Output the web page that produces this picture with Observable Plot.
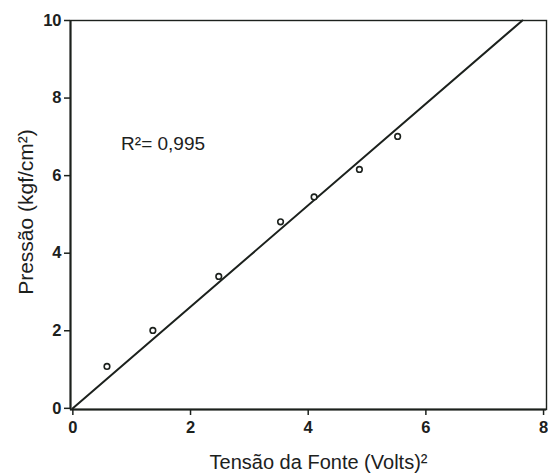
<!DOCTYPE html>
<html>
<head>
<meta charset="utf-8">
<script src="https://cdn.jsdelivr.net/npm/d3@7"></script>
<script src="https://cdn.jsdelivr.net/npm/@observablehq/plot@0.6"></script>
<style>
  html, body { margin: 0; padding: 0; background: #fff; overflow: hidden; }
</style>
</head>
<body>
<div id="chart"></div>
<script>
// Measured points: Tensão da Fonte (Volts)^2 vs Pressão (kgf/cm^2)
const tensao = [0.58, 1.36, 2.48, 3.53, 4.10, 4.87, 5.52];
const pressao = [1.08, 2.01, 3.40, 4.81, 5.45, 6.16, 7.01];
// Fitted line endpoints
const fitX = [0, 7.64];
const fitY = [0, 10];
const xTicks = [0, 2, 4, 6, 8];
const yTicks = [0, 2, 4, 6, 8, 10];
const r2Label = "R²= 0,995";
const xLabel = "Tensão da Fonte (Volts)²";
const yLabel = "Pressão (kgf/cm²)";

const points = tensao.map((x, i) => ({x, y: pressao[i]}));
const fit = fitX.map((x, i) => ({x, y: fitY[i]}));
const ink = "#1c211d";

const chart = Plot.plot({
  width: 548,
  height: 473,
  marginLeft: 70,
  marginRight: 2,
  marginTop: 20,
  marginBottom: 64,
  style: {background: "#fff", color: ink, fontFamily: "Liberation Sans, Arial, sans-serif"},
  x: {domain: [-0.04, 8.05]},
  y: {domain: [-0.03, 10]},
  marks: [
    Plot.frame({stroke: ink, strokeWidth: 1.4}),
    Plot.ruleX([-0.04], {stroke: ink, strokeWidth: 2}),
    Plot.ruleY([-0.03], {stroke: ink, strokeWidth: 2}),
    Plot.axisX({ticks: xTicks, tickSize: 6, tickPadding: 6, fontSize: 16.5, fontWeight: "bold",
      tickFormat: d => String(d), label: null, stroke: ink, strokeWidth: 1.5}),
    Plot.axisY({ticks: yTicks, tickSize: 6, tickPadding: 3, fontSize: 16.5, fontWeight: "bold",
      tickFormat: d => String(d), label: null, stroke: ink, strokeWidth: 1.5}),
    Plot.text([xLabel], {frameAnchor: "bottom", textAnchor: "middle", dx: 10, dy: 59, fontSize: 20, fill: ink}),
    Plot.text([yLabel], {frameAnchor: "left", textAnchor: "middle", lineAnchor: "middle", dx: -44, dy: -3, rotate: -90, fontSize: 21, fill: ink}),
    Plot.line(fit, {x: "x", y: "y", stroke: ink, strokeWidth: 2}),
    Plot.dot(points, {x: "x", y: "y", r: 2.8, stroke: ink, strokeWidth: 1.6, fill: "#fff"}),
    Plot.text([r2Label], {x: [0.82], y: [6.83], textAnchor: "start", fontSize: 19, fill: ink})
  ]
});
document.getElementById("chart").appendChild(chart);
</script>
</body>
</html>
